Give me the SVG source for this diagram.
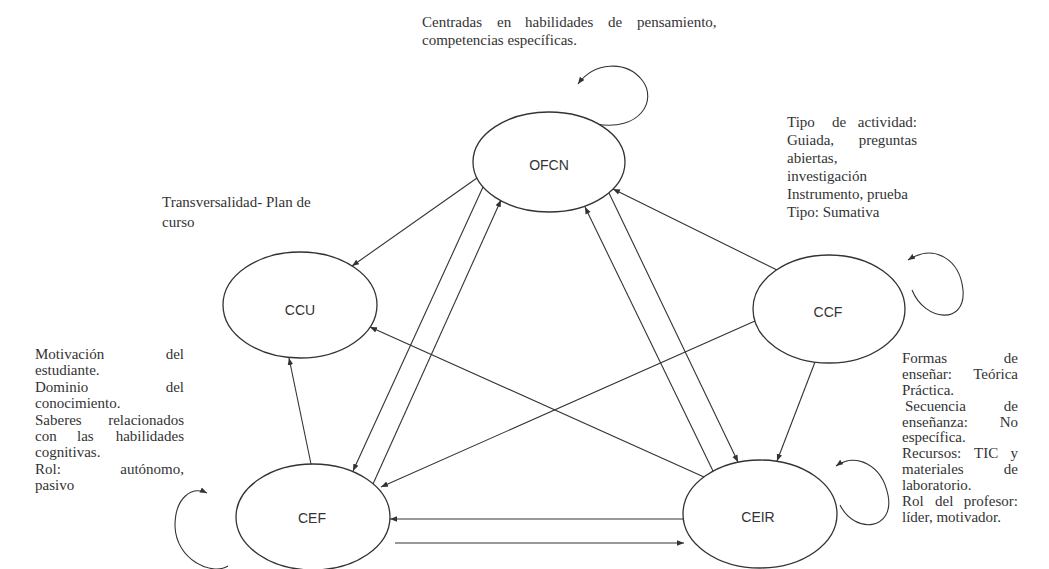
<svg xmlns="http://www.w3.org/2000/svg" width="1049" height="569" viewBox="0 0 1049 569">
<style>
.node{fill:#fff;stroke:#333;stroke-width:1.3}
.lbl{font-family:"Liberation Sans",Arial,sans-serif;font-size:14px;fill:#333;text-anchor:middle}
.t{font-family:"Liberation Serif","Times New Roman",serif;font-size:15px;fill:#333}
.e{text-anchor:end}
.c{fill:none;stroke:#333;stroke-width:1.1}
</style>
<defs>
<marker id="arr" viewBox="0 0 10 10" refX="10" refY="5" markerWidth="7" markerHeight="7" markerUnits="userSpaceOnUse" orient="auto"><path d="M0,1 L10,5 L0,9 z" fill="#333"/></marker>
</defs>
<rect width="1049" height="569" fill="#fff"/>

<g id="connectors">
<line class="c" x1="477" y1="178" x2="352" y2="266" marker-end="url(#arr)"/>
<line class="c" x1="777" y1="270" x2="613" y2="189" marker-end="url(#arr)"/>
<line class="c" x1="483" y1="187" x2="353" y2="471" marker-end="url(#arr)"/>
<line class="c" x1="373" y1="484" x2="501" y2="200" marker-end="url(#arr)"/>
<line class="c" x1="713" y1="471" x2="585" y2="207" marker-end="url(#arr)"/>
<line class="c" x1="609" y1="193" x2="738" y2="462" marker-end="url(#arr)"/>
<line class="c" x1="704" y1="477" x2="370" y2="327" marker-end="url(#arr)"/>
<line class="c" x1="755" y1="321" x2="381" y2="487" marker-end="url(#arr)"/>
<line class="c" x1="815" y1="362" x2="777" y2="461" marker-end="url(#arr)"/>
<line class="c" x1="311" y1="464" x2="289" y2="358" marker-end="url(#arr)"/>
<line class="c" x1="683" y1="519" x2="390" y2="519" stroke-width="2.2" marker-end="url(#arr)"/>
<line class="c" x1="395" y1="543" x2="684" y2="543" marker-end="url(#arr)"/>
<path class="c" d="M596 124 C640 132 658 100 642 80 C626 60 594 62 578 84" marker-end="url(#arr)"/>
<path class="c" d="M912 290 C925 322 966 325 963 290 C960 260 935 243 908 260" marker-end="url(#arr)"/>
<path class="c" d="M840 505 C855 535 895 530 888 495 C882 465 856 452 836 466" marker-end="url(#arr)"/>
<path class="c" d="M228 566 C212 576 176 560 175 526 C175 497 192 486 207 493" marker-end="url(#arr)"/>
</g>

<g id="OFCN"><ellipse class="node" cx="549" cy="162" rx="76" ry="50"/><text class="lbl" x="549" y="170">OFCN</text></g>
<g id="CCU"><ellipse class="node" cx="300" cy="305" rx="77" ry="53"/><text class="lbl" x="300" y="315">CCU</text></g>
<g id="CCF"><ellipse class="node" cx="829" cy="309" rx="76" ry="54"/><text class="lbl" x="828" y="317">CCF</text></g>
<g id="CEF"><ellipse class="node" cx="313" cy="517" rx="77" ry="53"/><text class="lbl" x="312" y="523">CEF</text></g>
<g id="CEIR"><ellipse class="node" cx="760" cy="514" rx="77" ry="54"/><text class="lbl" x="758" y="522">CEIR</text></g>

<g id="note-ofcn">
<text class="t" y="27"><tspan x="422">Centradas</tspan><tspan x="497">en</tspan><tspan x="525">habilidades</tspan><tspan x="608">de</tspan><tspan x="637">pensamiento,</tspan></text>
<text class="t" x="422" y="45">competencias específicas.</text>
</g>

<g id="note-ccf">
<text class="t" y="127"><tspan x="787">Tipo</tspan><tspan x="832">de</tspan><tspan x="917" text-anchor="end">actividad:</tspan></text>
<text class="t" y="145"><tspan x="787">Guiada,</tspan><tspan x="917" text-anchor="end">preguntas</tspan></text>
<text class="t" x="787" y="163">abiertas,</text>
<text class="t" x="787" y="181">investigación</text>
<text class="t" x="787" y="199">Instrumento, prueba</text>
<text class="t" x="787" y="217">Tipo: Sumativa</text>
</g>

<g id="note-ccu">
<text class="t" x="162" y="207">Transversalidad- Plan de</text>
<text class="t" x="162" y="227">curso</text>
</g>

<g id="note-cef">
<text class="t" y="359"><tspan x="35">Motivación</tspan><tspan x="184" text-anchor="end">del</tspan></text>
<text class="t" x="35" y="375">estudiante.</text>
<text class="t" y="392"><tspan x="35">Dominio</tspan><tspan x="184" text-anchor="end">del</tspan></text>
<text class="t" x="35" y="408">conocimiento.</text>
<text class="t" y="425"><tspan x="35">Saberes</tspan><tspan x="184" text-anchor="end">relacionados</tspan></text>
<text class="t" y="441"><tspan x="35">con</tspan><tspan x="77">las</tspan><tspan x="184" text-anchor="end">habilidades</tspan></text>
<text class="t" x="35" y="457">cognitivas.</text>
<text class="t" y="474"><tspan x="35">Rol:</tspan><tspan x="184" text-anchor="end">autónomo,</tspan></text>
<text class="t" x="35" y="490">pasivo</text>
</g>

<g id="note-ceir">
<text class="t" y="363"><tspan x="902">Formas</tspan><tspan x="1018" text-anchor="end">de</tspan></text>
<text class="t" y="379"><tspan x="902">enseñar:</tspan><tspan x="1018" text-anchor="end">Teórica</tspan></text>
<text class="t" x="902" y="395">Práctica.</text>
<text class="t" y="411"><tspan x="905">Secuencia</tspan><tspan x="1018" text-anchor="end">de</tspan></text>
<text class="t" y="427"><tspan x="902">enseñanza:</tspan><tspan x="1018" text-anchor="end">No</tspan></text>
<text class="t" x="902" y="442">específica.</text>
<text class="t" y="458"><tspan x="902">Recursos:</tspan><tspan x="974">TIC</tspan><tspan x="1018" text-anchor="end">y</tspan></text>
<text class="t" y="474"><tspan x="902">materiales</tspan><tspan x="1018" text-anchor="end">de</tspan></text>
<text class="t" x="902" y="490">laboratorio.</text>
<text class="t" y="506"><tspan x="902">Rol</tspan><tspan x="935">del</tspan><tspan x="1018" text-anchor="end">profesor:</tspan></text>
<text class="t" x="902" y="522">líder, motivador.</text>
</g>
</svg>
